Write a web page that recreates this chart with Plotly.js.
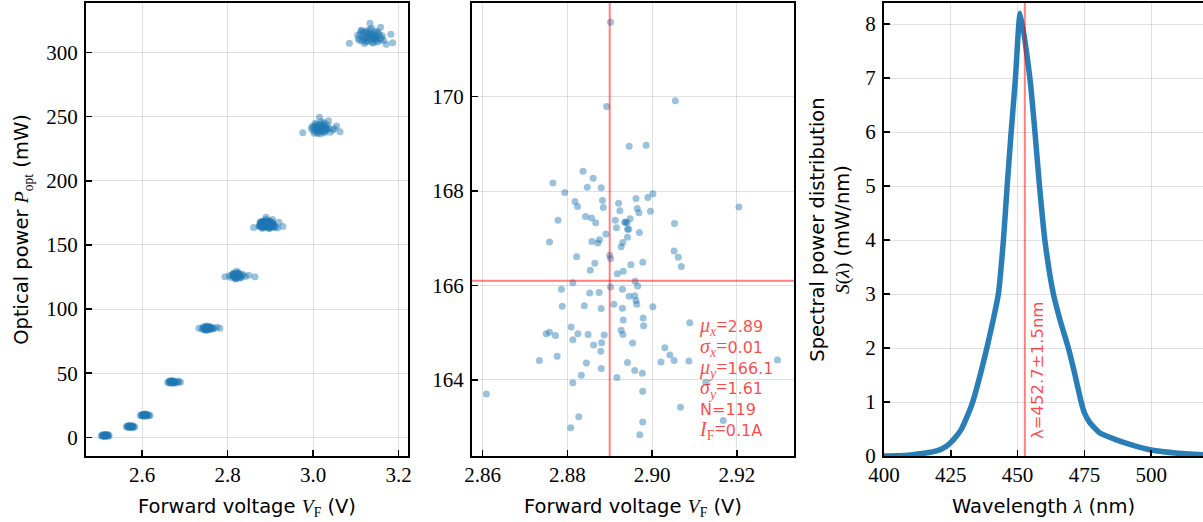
<!DOCTYPE html>
<html>
<head>
<meta charset="utf-8">
<script src="https://cdn.plot.ly/plotly-3.0.1.min.js"></script>
<style>html,body{margin:0;padding:0;background:#fff;}#chart{width:1203px;height:522px;}</style>
</head>
<body>
<div id="chart"></div>
<script>
// ---------------- data ----------------
// Forward current labels of the clusters (left panel)
const currentLabels = ["1 mA", "5 mA", "10 mA", "25 mA", "50 mA", "75 mA", "100 mA", "150 mA", "200 mA"];

// Clusters of (forward voltage V, optical power mW) (the 100 mA one is the middle panel data)
const clusterVoltage = [
  [2.505,2.508,2.510,2.512,2.514,2.516,2.518,2.520,2.523,2.507,2.511,2.515,2.519,2.513,2.517,2.509,2.521,2.512],
  [2.563,2.566,2.568,2.570,2.572,2.574,2.576,2.578,2.580,2.583,2.567,2.571,2.575,2.579,2.569,2.573,2.577],
  [2.596,2.599,2.601,2.603,2.605,2.607,2.609,2.611,2.613,2.616,2.619,2.602,2.606,2.610,2.604,2.608,2.600,2.612],
  [2.660,2.663,2.665,2.667,2.669,2.671,2.673,2.675,2.677,2.680,2.684,2.690,2.664,2.668,2.672,2.676,2.670,2.674,2.666,2.686],
  [2.733,2.740,2.743,2.745,2.747,2.749,2.751,2.753,2.755,2.757,2.759,2.761,2.764,2.768,2.775,2.782,2.746,2.750,2.754,2.758,2.748,2.752,2.756,2.762,
   2.744,2.749,2.753,2.757,2.761,2.751,2.766],
  [2.794,2.804,2.808,2.811,2.813,2.815,2.817,2.819,2.821,2.823,2.825,2.827,2.829,2.832,2.836,2.842,2.850,2.864,2.816,2.820,2.824,2.818,2.822,2.826,2.814,2.828,
   2.812,2.817,2.823,2.830,2.834,2.819,2.826,2.815],
  null,
  [2.976,3.063,3.055,3.015,3.036,2.996,3.000,3.004,3.007,3.010,3.013,3.016,3.019,3.022,3.025,3.028,3.032,3.040,3.046,3.005,3.012,3.018,3.024,3.030,3.009,3.021,3.027,3.002,3.050,3.014,
   2.998,3.003,3.008,3.011,3.017,3.020,3.023,3.026,3.029,3.033,3.037,3.006,3.015,3.031,3.019],
  [3.085,3.133,3.158,3.182,3.186,3.171,3.106,3.110,3.114,3.118,3.121,3.124,3.127,3.130,3.133,3.136,3.139,3.142,3.145,3.148,3.151,3.155,3.160,3.165,3.116,3.126,3.138,3.150,3.122,3.134,3.146,3.112,3.143,
   3.104,3.108,3.113,3.119,3.123,3.128,3.131,3.137,3.141,3.147,3.152,3.157,3.162,3.120,3.135,3.149,3.129,3.140]
];
const clusterPower = [
  [1.2,2.0,0.8,1.8,1.0,2.2,1.4,0.9,1.6,1.0,1.3,1.9,2.1,0.6,1.1,1.7,1.2,1.5],
  [8.2,8.8,7.6,8.5,9.1,7.8,8.4,8.9,8.0,8.3,8.6,7.9,8.7,8.1,9.0,8.4,7.7],
  [17.0,17.6,16.6,18.0,17.3,16.8,17.9,17.1,16.5,17.4,17.0,17.8,16.4,17.6,17.2,18.1,16.9,17.5],
  [42.8,43.6,42.4,44.0,43.1,42.6,43.8,43.3,42.2,43.5,42.9,43.0,43.9,42.1,44.1,42.7,43.4,42.5,43.2,43.7],
  [85.0,84.5,86.2,83.8,85.6,84.2,86.8,85.1,83.6,85.9,84.7,85.3,84.4,85.0,85.8,85.1,84.0,86.4,85.5,84.3,85.2,83.9,86.0,85.4,
   85.3,83.5,84.6,86.3,86.0,85.9,84.6],
  [125.2,126.0,124.6,127.2,125.5,128.0,124.2,126.8,129.5,125.3,127.6,124.5,126.2,125.0,127.0,125.4,126.3,125.2,126.5,123.9,128.4,125.8,124.8,126.9,125.9,127.9,
   126.6,125.1,127.4,124.2,126.4,123.5,125.6,127.9],
  null,
  [237.5,238.3,242.8,249.5,246.9,240.8,239.2,242.5,238.0,241.6,243.8,239.5,241.0,244.6,238.6,242.2,240.0,237.8,239.6,245.0,240.4,236.8,243.0,241.3,239.9,242.0,237.5,241.9,240.6,241.8,
   242.6,237.2,244.2,236.9,243.4,238.5,240.2,245.4,239.1,243.6,241.2,240.1,238.1,240.7,246.0],
  [307.3,322.9,319.7,314.3,307.7,306.5,311.0,314.5,309.0,316.0,312.0,308.5,315.2,311.5,318.0,309.8,313.4,310.6,316.6,312.4,308.2,314.0,311.2,309.5,312.8,317.0,307.9,315.5,310.2,313.0,310.8,316.8,312.2,
   313.5,309.6,317.4,310.8,315.8,308.8,313.9,319.0,307.6,311.8,316.2,310.0,313.2,307.2,315.0,309.2,311.9,314.8]
];

// 119 measurements at I_F = 0.1 A (middle panel, also the 100 mA cluster on the left)
const vf100mA = [2.8902,2.9055,2.8893,2.8946,2.8986,2.8837,2.8861,2.8766,2.8847,2.8880,
  2.8794,2.9002,2.8990,2.8818,2.8883,2.8962,2.8921,2.8824,2.8885,2.9205,
  2.8965,2.8924,2.8969,2.8996,2.8778,2.8843,2.8857,2.8867,2.8913,2.8948,
  2.8936,2.8941,2.9053,2.8916,2.8945,2.8970,2.8891,2.8942,2.8758,2.8858,
  2.8876,2.8872,2.8931,2.8927,2.8822,2.8900,2.8902,2.9052,2.9062,2.9069,
  2.8865,2.8950,2.8978,2.8854,2.8918,2.8932,2.8813,2.8960,2.8786,2.8853,
  2.8875,2.8902,2.8930,2.8966,2.8946,2.8959,2.8962,2.8964,2.8788,2.8840,
  2.8880,2.8910,2.8930,2.9002,2.8979,2.8932,2.8980,2.9089,2.8809,2.8750,
  2.8758,2.8772,2.8825,2.8849,2.8887,2.8927,2.8931,2.8813,2.8862,2.8881,
  2.8954,2.9030,2.9042,2.8879,2.8734,2.8776,2.8845,2.8942,2.9021,2.9052,
  2.9087,2.9296,2.8880,2.8959,2.8977,2.8833,2.8917,2.8813,2.9127,2.8978,
  2.8609,2.9067,2.8827,2.8978,2.9168,2.8808,2.8971,2.8937,2.8942];
const popt100mA = [171.57,169.91,169.79,168.95,168.97,168.42,168.27,168.17,168.08,168.07,
  167.97,167.94,167.86,167.78,167.80,167.84,167.74,167.67,167.65,167.66,
  167.63,167.58,167.54,167.57,167.38,167.46,167.43,167.33,167.38,167.41,
  167.34,167.33,167.31,167.22,167.19,167.12,167.09,167.02,166.92,166.93,
  166.97,166.90,166.91,166.82,166.61,166.64,166.57,166.73,166.60,166.40,
  166.47,166.44,166.49,166.32,166.25,166.30,166.06,166.09,165.92,165.84,
  165.85,165.97,165.92,165.99,165.77,165.78,165.68,165.60,165.56,165.57,
  165.51,165.60,165.52,165.55,165.31,165.27,165.15,165.21,165.12,164.98,
  165.01,164.94,164.98,164.96,164.95,165.05,164.96,164.85,164.74,164.79,
  164.78,164.68,164.53,164.61,164.41,164.50,164.36,164.37,164.38,164.41,
  164.40,164.42,164.24,164.20,164.14,164.10,164.05,163.94,163.95,163.76,
  163.70,163.42,163.22,163.11,163.14,162.99,162.84,167.34,167.19];

const meanVoltage = 2.89;
const meanPower = 166.1;
const statValues = ["2.89", "0.01", "166.1", "1.61", "119", "0.1A"];

// Spectral power distribution (right panel)
const wavelength = [400,405,410,415,420,423,425,427,429,431,433.2,436,438.5,441,442.8,444.7,446.1,447.6,449.2,451,
  454.6,456.5,458.2,460.2,463.4,466,469,471.5,473.8,475,477,481,487,493,500,510,520];
const spectralPower = [0,0.005,0.02,0.05,0.1,0.17,0.25,0.36,0.5,0.72,1,1.5,2,2.55,3,4,5,6,7,8.2,
  7,6,5,4,3,2.5,2,1.5,1,0.8,0.62,0.42,0.3,0.2,0.11,0.05,0.02];
const peakWavelength = 452.7;
const peakLabel = "λ=452.7±1.5nm";

// ---------------- figure ----------------
const W = 1203, H = 522;
const BLUE = "#1f77b4";
const RED_LINE = "rgba(255,0,0,0.5)";
const RED_TEXT = "rgba(255,0,0,0.72)";
const SERIF = "Liberation Serif";
const SANS = "DejaVu Sans";
const m = (s, size) => "<span style=\"font-family:Liberation Serif" + (size ? ";font-size:" + size + "px" : "") + "\">" + s + "</span>";

const traces = [];
for (let i = 0; i < currentLabels.length; i++) {
  const xs = clusterVoltage[i] || vf100mA;
  const ys = clusterPower[i] || popt100mA;
  traces.push({
    type: "scatter", mode: "markers", x: xs, y: ys, xaxis: "x", yaxis: "y",
    name: currentLabels[i], showlegend: false,
    marker: {color: BLUE, size: 7, opacity: 0.45, line: {width: 0}}
  });
}
traces.push({
  type: "scatter", mode: "markers", x: vf100mA, y: popt100mA, xaxis: "x2", yaxis: "y2",
  showlegend: false, marker: {color: BLUE, size: 7, opacity: 0.45, line: {width: 0}}
});
traces.push({
  type: "scatter", mode: "lines", x: wavelength, y: spectralPower, xaxis: "x3", yaxis: "y3",
  showlegend: false, line: {color: BLUE, width: 5.5, shape: "spline", smoothing: 0.6}, opacity: 0.95
});

const yDom = [(H - 456) / H, (H - 3) / H];
const common = {
  showline: true, linecolor: "#000", linewidth: 2, mirror: true,
  ticks: "inside", ticklen: 6, tickwidth: 1.5, tickcolor: "#000",
  showgrid: true, gridcolor: "rgba(0,0,0,0.12)", gridwidth: 1, zeroline: false,
  tickfont: {family: SERIF, size: 21, color: "#000"}
};
const xCommon = Object.assign({}, common, {ticklabelstandoff: -1});
const yCommon = Object.assign({}, common, {ticklabelstandoff: 2});
const titleFont = {family: SANS, size: 19.5, color: "#000"};

const layout = {
  width: W, height: H, margin: {l: 0, r: 0, t: 0, b: 0},
  paper_bgcolor: "#fff", plot_bgcolor: "#fff", showlegend: false,
  font: {family: SANS},
  xaxis: Object.assign({}, xCommon, {
    domain: [86 / W, 408 / W], range: [2.469, 3.222], tickvals: [2.6, 2.8, 3.0, 3.2], tickformat: ".1f",
    title: {text: "Forward voltage " + m("<i>V</i><sub>F</sub>") + " (V)", font: titleFont, standoff: 13}, anchor: "y"
  }),
  yaxis: Object.assign({}, yCommon, {
    domain: yDom, range: [-14.6, 338.7], tickvals: [0, 50, 100, 150, 200, 250, 300],
    title: {text: "Optical power " + m("<i>P</i><sub>opt</sub>") + " (mW)", font: titleFont, standoff: 12}, anchor: "x"
  }),
  xaxis2: Object.assign({}, xCommon, {
    domain: [472 / W, 794 / W], range: [2.8575, 2.9335], tickvals: [2.86, 2.88, 2.90, 2.92], tickformat: ".2f",
    title: {text: "Forward voltage " + m("<i>V</i><sub>F</sub>") + " (V)", font: titleFont, standoff: 13}, anchor: "y2"
  }),
  yaxis2: Object.assign({}, yCommon, {
    domain: yDom, range: [162.39, 171.98], tickvals: [164, 166, 168, 170], anchor: "x2"
  }),
  xaxis3: Object.assign({}, xCommon, {
    domain: [884 / W, 1], range: [400, 519.4], tickvals: [400, 425, 450, 475, 500],
    title: {text: "Wavelength " + m("<i>λ</i>") + " (nm)", font: titleFont, standoff: 13}, anchor: "y3"
  }),
  yaxis3: Object.assign({}, yCommon, {
    domain: yDom, range: [0, 8.39], tickvals: [0, 1, 2, 3, 4, 5, 6, 7, 8], mirror: false,
    title: {text: "Spectral power distribution<br>" + m("<i>S</i>(<i>λ</i>)") + " (mW/nm)", font: titleFont, standoff: 10}, anchor: "x3"
  }),
  shapes: [
    {type: "line", xref: "x2", yref: "y2 domain", x0: meanVoltage, x1: meanVoltage, y0: 0, y1: 1, line: {color: RED_LINE, width: 2}},
    {type: "line", xref: "x2 domain", yref: "y2", x0: 0, x1: 1, y0: meanPower, y1: meanPower, line: {color: RED_LINE, width: 2}},
    {type: "line", xref: "x3", yref: "y3 domain", x0: peakWavelength, x1: peakWavelength, y0: 0, y1: 1, line: {color: RED_LINE, width: 2}}
  ],
  annotations: []
};

// stats text (middle panel), a single left-aligned multi-line block
const statsHtml = [
  m("<i>μ</i><sub><i>x</i></sub>=", 20) + statValues[0],
  m("<i>σ</i><sub><i>x</i></sub>=", 20) + statValues[1],
  m("<i>μ</i><sub><i>y</i></sub>=", 20) + statValues[2],
  m("<i>σ</i><sub><i>y</i></sub>=", 20) + statValues[3],
  "N=" + statValues[4],
  m("<i>I</i><sub>F</sub>=", 20) + statValues[5]
];
layout.annotations.push({
  xref: "paper", yref: "paper", x: 697 / W, y: (H - 378.3) / H,
  xanchor: "left", yanchor: "middle", align: "left", showarrow: false, text: statsHtml.join("<br>"),
  font: {family: SANS, size: 16, color: RED_TEXT}
});
// peak wavelength label (right panel)
layout.annotations.push({
  xref: "paper", yref: "paper", x: 1037 / W, y: (H - 371) / H, xanchor: "center", yanchor: "middle",
  textangle: -90, showarrow: false, text: peakLabel, font: {family: SANS, size: 16.5, color: RED_TEXT}
});

Plotly.newPlot("chart", traces, layout, {staticPlot: true, displayModeBar: false});
</script>
</body>
</html>
